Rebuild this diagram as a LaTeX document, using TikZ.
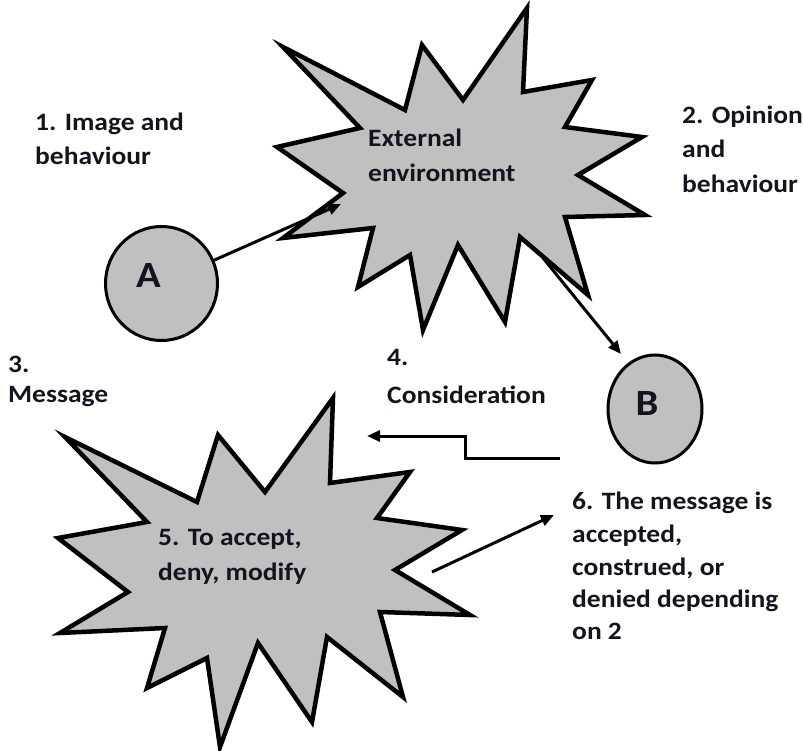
\documentclass[tikz,border=0pt]{standalone}
\usepackage{fontspec}
\setmainfont{Carlito}[FakeStretch=1.1]
\usetikzlibrary{arrows.meta,shapes.geometric}
\definecolor{shade}{RGB}{192,192,192}
\definecolor{txt}{RGB}{20,20,30}
\newcommand\lblfont{\fontsize{25}{33}\selectfont\bfseries}
\newcommand\bigfont{\fontsize{37}{40}\selectfont\bfseries}
\begin{document}
\begin{tikzpicture}[x=1pt,y=-1pt,
  lbl/.style={anchor=base west, inner sep=0pt, font=\lblfont, text=txt},
  letter/.style={anchor=base, inner sep=0pt, font=\bigfont, text=txt},
  burst/.style={draw=black, line width=4.5pt, fill=shade, line join=miter},
  person/.style={ellipse, draw=black, line width=3pt, fill=shade, inner sep=0pt},
  conn/.style={draw=black, line width=3pt, -{Triangle[length=13pt,width=11pt]}},
]
\useasboundingbox (0,0) rectangle (803,751);

% top burst: external environment
\path[burst] (283,47) -- (405,110) -- (422,45) -- (463,100) -- (527,8) -- (523,92)
  -- (592,80) -- (565,127) -- (642,137) -- (578,175) -- (645,215) -- (565,217)
  -- (588,295) -- (520,237) -- (505,322) -- (458,245) -- (423,330) -- (410,255)
  -- (358,287) -- (373,228) -- (283,238) -- (343,193) -- (277,147) -- (360,128) -- cycle;

% bottom burst: accept / deny / modify
\path[burst] (65,437) -- (197,502) -- (218,435) -- (265,492) -- (333,398) -- (330,483)
  -- (410,472) -- (377,518) -- (462,530) -- (395,570) -- (470,615) -- (380,612)
  -- (403,697) -- (327,637) -- (312,722) -- (258,643) -- (220,747) -- (207,658)
  -- (147,688) -- (165,628) -- (60,633) -- (128,592) -- (58,538) -- (147,522) -- cycle;

% persons
\node[person, minimum width=112pt, minimum height=114pt] (A) at (161.5,283.5) {};
\node[person, minimum width=94pt, minimum height=108pt] (B) at (655,409) {};
\node[letter] (Alab) at (148.5,288) {A};
\node[letter] (Blab) at (647,415) {B};

% connector end points
\coordinate (envIn) at (341,204);
\coordinate (envOut) at (543,258);
\coordinate (toB) at (621,354);
\coordinate (fromB) at (560,458);
\coordinate (step1) at (465,458);
\coordinate (step2) at (465,436);
\coordinate (toMsg) at (367,436);
\coordinate (burstOut) at (432,572);
\coordinate (toSix) at (554,515);

\draw[conn] (A) -- (envIn);
\draw[conn] (envOut) -- (toB);
\draw[conn] (fromB) -- (step1) -- (step2) -- (toMsg);
\draw[conn] (burstOut) -- (toSix);

% texts
\node[lbl] (t1a) at (35,131) {1. Image and};
\node[lbl] (t1b) at (35,165) {behaviour};
\node[lbl] (t2a) at (682,124) {2. Opinion};
\node[lbl] (t2b) at (682,158) {and};
\node[lbl] (t2c) at (682,193) {behaviour};
\node[lbl] (exa) at (368,147) {External};
\node[lbl] (exb) at (368,182) {environment};
\node[lbl] (t3a) at (8,372) {3.};
\node[lbl] (t3b) at (8,402) {Message};
\node[lbl] (t4a) at (387,365) {4.};
\node[lbl] (t4b) at (387,403) {Consideration};
\node[lbl] (t5a) at (158,545) {5. To accept,};
\node[lbl] (t5b) at (158,580) {deny, modify};
\node[lbl] (t6a) at (572,509) {6. The message is};
\node[lbl] (t6b) at (572,542) {accepted,};
\node[lbl] (t6c) at (572,575) {construed, or};
\node[lbl] (t6d) at (572,607) {denied depending};
\node[lbl] (t6e) at (572,639) {on 2};
\end{tikzpicture}
\end{document}
